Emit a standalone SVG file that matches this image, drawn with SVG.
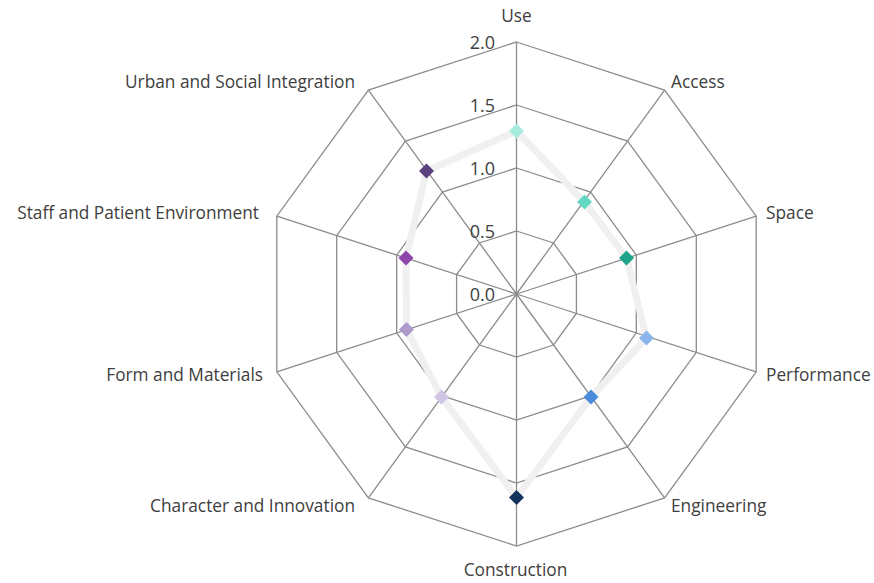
<svg xmlns="http://www.w3.org/2000/svg" xmlns:xlink="http://www.w3.org/1999/xlink" width="874" height="583" viewBox="0 0 874 583">
<style>
.grid{fill:none;stroke:#8c8c8c;stroke-width:1.3;stroke-linejoin:miter}
.lbl{font-family:"Open Sans","Liberation Sans",sans-serif;font-size:17.3px;fill:#404040}
.tick{font-family:"Open Sans","Liberation Sans",sans-serif;font-size:18px;fill:#404040;text-anchor:end}
.series{fill:none;stroke:#f0f0f0;stroke-width:7;stroke-linejoin:round}
</style>
<defs>
<path id="dm" d="M0,-7.5 L7.5,0 L0,7.5 L-7.5,0 Z"/>
</defs>
<rect width="874" height="583" fill="#ffffff"/>
<g id="grid">
<polygon class="grid" points="516.5,42 664.6,90.1 756.2,216.1 756.2,371.9 664.6,497.9 516.5,546 368.4,497.9 276.8,371.9 276.8,216.1 368.4,90.1"/>
<polygon class="grid" points="516.5,105 627.6,141.1 696.3,235.6 696.3,352.4 627.6,446.9 516.5,483 405.4,446.9 336.7,352.4 336.7,235.6 405.4,141.1"/>
<polygon class="grid" points="516.5,168 590.6,192.1 636.3,255.1 636.3,332.9 590.6,395.9 516.5,420 442.4,395.9 396.7,332.9 396.7,255.1 442.4,192.1"/>
<polygon class="grid" points="516.5,231 553.5,243 576.4,274.5 576.4,313.5 553.5,345 516.5,357 479.5,345 456.6,313.5 456.6,274.5 479.5,243"/>
</g>
<g id="connectors">
<path class="grid" d="M516.5,294 L516.5,42 M516.5,294 L664.6,90.1 M516.5,294 L756.2,216.1 M516.5,294 L756.2,371.9 M516.5,294 L664.6,497.9 M516.5,294 L516.5,546 M516.5,294 L368.4,497.9 M516.5,294 L276.8,371.9 M516.5,294 L276.8,216.1 M516.5,294 L368.4,90.1"/>
</g>
<g id="ticks">
<text class="tick" x="495" y="49">2.0</text>
<text class="tick" x="495" y="112">1.5</text>
<text class="tick" x="495" y="175">1.0</text>
<text class="tick" x="495" y="238">0.5</text>
<text class="tick" x="495" y="301">0.0</text>
</g>
<g id="series">
<polygon class="series" points="516.5,131 584.5,202 626.5,258 646.5,338 591,397 516.5,497.5 441.5,397 406.5,329.5 406,258 426.5,171"/>
</g>
<g id="node-use"><use xlink:href="#dm" x="516.5" y="131" fill="#a8ebdf"/><text class="lbl" x="516.5" y="22" text-anchor="middle">Use</text></g>
<g id="node-access"><use xlink:href="#dm" x="584.5" y="202" fill="#62dac3"/><text class="lbl" x="671" y="88">Access</text></g>
<g id="node-space"><use xlink:href="#dm" x="626.5" y="258" fill="#1fa38a"/><text class="lbl" x="766" y="219">Space</text></g>
<g id="node-performance"><use xlink:href="#dm" x="646.5" y="338" fill="#8bb5ea"/><text class="lbl" x="766" y="381">Performance</text></g>
<g id="node-engineering"><use xlink:href="#dm" x="591" y="397" fill="#4a8bdb"/><text class="lbl" x="671" y="512">Engineering</text></g>
<g id="node-construction"><use xlink:href="#dm" x="516.5" y="497.5" fill="#14335c"/><text class="lbl" x="515.5" y="576" text-anchor="middle">Construction</text></g>
<g id="node-character"><use xlink:href="#dm" x="441.5" y="397" fill="#d0c6e3"/><text class="lbl" x="355" y="512" text-anchor="end">Character and Innovation</text></g>
<g id="node-form"><use xlink:href="#dm" x="406.5" y="329.5" fill="#ae9acd"/><text class="lbl" x="263" y="381" text-anchor="end">Form and Materials</text></g>
<g id="node-staff"><use xlink:href="#dm" x="406" y="258" fill="#8f45a9"/><text class="lbl" x="259" y="219" text-anchor="end">Staff and Patient Environment</text></g>
<g id="node-urban"><use xlink:href="#dm" x="426.5" y="171" fill="#5d4080"/><text class="lbl" x="355" y="88" text-anchor="end">Urban and Social Integration</text></g>
</svg>
